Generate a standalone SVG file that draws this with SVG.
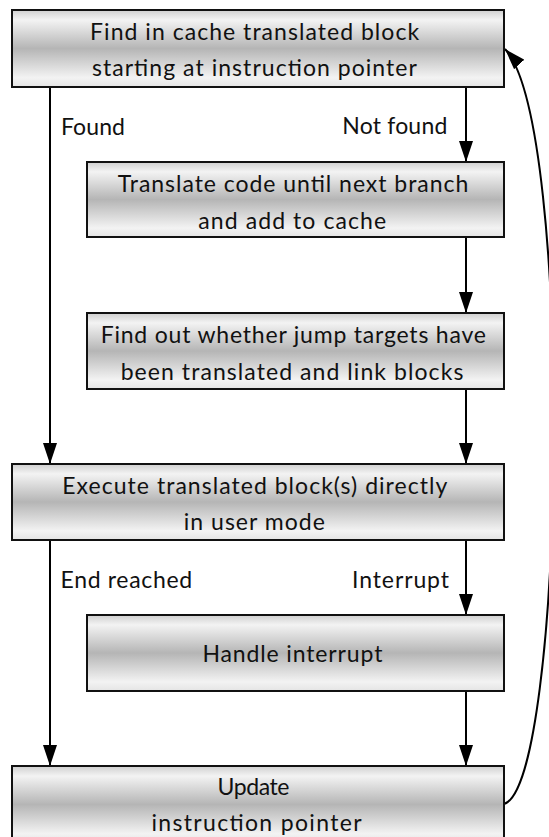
<svg xmlns="http://www.w3.org/2000/svg" width="549" height="837" viewBox="0 0 549 837">
  <style>
    .box { fill: url(#g); stroke: #111; stroke-width: 2; }
    .t { font-family: Lato, "Open Sans", "Liberation Sans", sans-serif; font-size: 23px; fill: #111; }
    .m { text-anchor: middle; }
    .c { fill: none; stroke: #000; stroke-width: 2; }
  </style>
  <defs>
    <linearGradient id="g" x1="0" y1="0" x2="0" y2="1">
      <stop offset="0" stop-color="#cfcfcf"/>
      <stop offset="0.13" stop-color="#f3f3f3"/>
      <stop offset="0.5" stop-color="#b5b5b5"/>
      <stop offset="0.88" stop-color="#f3f3f3"/>
      <stop offset="1" stop-color="#e4e4e4"/>
    </linearGradient>
    <marker id="a" markerUnits="userSpaceOnUse" markerWidth="21" markerHeight="14" refX="21" refY="7" orient="auto">
      <path d="M0,0 L21,7 L0,14 z" fill="#000"/>
    </marker>
  </defs>

  <g id="connectors">
    <line class="c" x1="50" y1="87" x2="50" y2="464" marker-end="url(#a)"/>
    <line class="c" x1="466" y1="87" x2="466" y2="162" marker-end="url(#a)"/>
    <line class="c" x1="466" y1="237" x2="466" y2="313" marker-end="url(#a)"/>
    <line class="c" x1="466" y1="389" x2="466" y2="464" marker-end="url(#a)"/>
    <line class="c" x1="50" y1="540" x2="50" y2="766" marker-end="url(#a)"/>
    <line class="c" x1="466" y1="540" x2="466" y2="615" marker-end="url(#a)"/>
    <line class="c" x1="466" y1="691" x2="466" y2="766" marker-end="url(#a)"/>
    <path class="c" d="M504,804 C565,785 575,125 505,49" marker-end="url(#a)"/>
    <text class="t" x="61" y="135" textLength="64" lengthAdjust="spacing">Found</text>
    <text class="t" x="342.3" y="134" textLength="105" lengthAdjust="spacing">Not found</text>
    <text class="t" x="60.5" y="588" textLength="131.6" lengthAdjust="spacing">End reached</text>
    <text class="t" x="352" y="588" textLength="97" lengthAdjust="spacing">Interrupt</text>
  </g>

  <g id="n1">
    <rect class="box" x="12" y="10" width="492" height="77"/>
    <text class="t m" x="254.6" y="40" textLength="329" lengthAdjust="spacing">Find in cache translated block</text>
    <text class="t m" x="254.4" y="75.5" textLength="325" lengthAdjust="spacing">starting at instruction pointer</text>
  </g>
  <g id="n2">
    <rect class="box" x="87" y="162" width="417" height="75"/>
    <text class="t m" x="293" y="192" textLength="350.6" lengthAdjust="spacing">Translate code until next branch</text>
    <text class="t m" x="292.2" y="229" textLength="187.7" lengthAdjust="spacing">and add to cache</text>
  </g>
  <g id="n3">
    <rect class="box" x="87" y="313" width="417" height="76"/>
    <text class="t m" x="293.3" y="343" textLength="385.3" lengthAdjust="spacing">Find out whether jump targets have</text>
    <text class="t m" x="292" y="380" textLength="342.7" lengthAdjust="spacing">been translated and link blocks</text>
  </g>
  <g id="n4">
    <rect class="box" x="12" y="464" width="492" height="76"/>
    <text class="t m" x="254.8" y="494" textLength="385" lengthAdjust="spacing">Execute translated block(s) directly</text>
    <text class="t m" x="254.3" y="530" textLength="141" lengthAdjust="spacing">in user mode</text>
  </g>
  <g id="n5">
    <rect class="box" x="87" y="615" width="417" height="76"/>
    <text class="t m" x="292.4" y="662" textLength="180" lengthAdjust="spacing">Handle interrupt</text>
  </g>
  <g id="n6">
    <rect class="box" x="12" y="766" width="492" height="77"/>
    <text class="t m" x="253.5" y="795" textLength="72" lengthAdjust="spacing">Update</text>
    <text class="t m" x="256.5" y="831" textLength="210" lengthAdjust="spacing">instruction pointer</text>
  </g>
</svg>
